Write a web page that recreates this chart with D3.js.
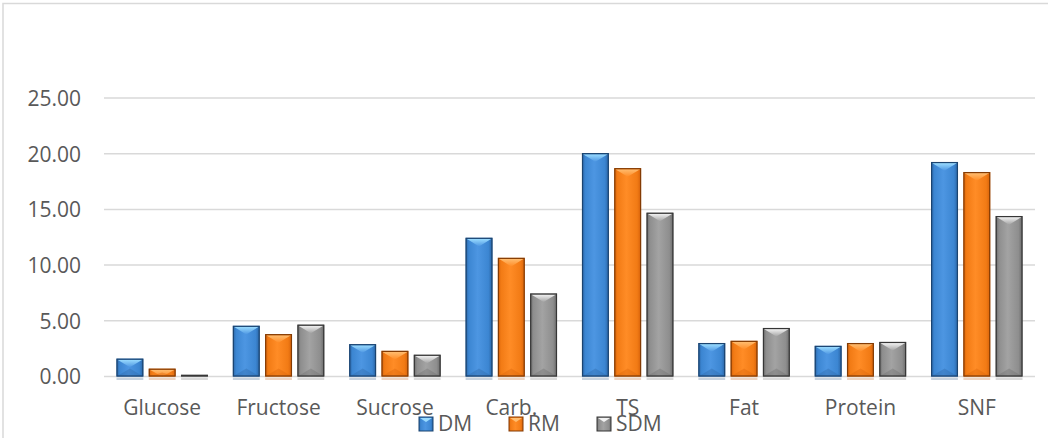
<!DOCTYPE html>
<html><head><meta charset="utf-8">
<script src="https://cdn.jsdelivr.net/npm/d3@7"></script>
<style>body{margin:0;background:#fff}svg{display:block;font-family:"Open Sans",sans-serif}</style>
</head><body><svg id="c" width="1048" height="438"></svg>
<script>
const categories = ["Glucose","Fructose","Sucrose","Carb.","TS","Fat","Protein","SNF"];
const seriesNames = ["DM","RM","SDM"];
const DM  = [1.60, 4.55, 2.90, 12.45, 20.05, 3.00, 2.75, 19.25];
const RM  = [0.70, 3.80, 2.30, 10.65, 18.70, 3.20, 3.00, 18.35];
const SDM = [0.15, 4.65, 1.95, 7.45, 14.70, 4.35, 3.10, 14.40];
const yTicks = [0,5,10,15,20,25];
const values = {DM, RM, SDM};

const colors = {
  DM:  {l:"#4d96e2", m:"#3c86d2", r:"#2a64a4", tri:"#9adcff", stroke:"#1b4470", shadow:"#b9c7d6"},
  RM:  {l:"#ff8c26", m:"#f27b15", r:"#d6620a", tri:"#ffbd70", stroke:"#833b04", shadow:"#e8c9b3"},
  SDM: {l:"#a3a3a3", m:"#8e8e8e", r:"#6a6a6a", tri:"#f2f2f2", stroke:"#363636", shadow:"#cfcfcf"}
};

const svg = d3.select("#c");
const defs = svg.append("defs");
seriesNames.forEach(s=>{
  const g = defs.append("linearGradient").attr("id","g"+s).attr("x1","0").attr("x2","1").attr("y1","0").attr("y2","0");
  g.append("stop").attr("offset","0").attr("stop-color",colors[s].r);
  g.append("stop").attr("offset","0.12").attr("stop-color",colors[s].m);
  g.append("stop").attr("offset","0.45").attr("stop-color",colors[s].l);
  g.append("stop").attr("offset","0.85").attr("stop-color",colors[s].m);
  g.append("stop").attr("offset","1").attr("stop-color",colors[s].r);
  const t = defs.append("linearGradient").attr("id","t"+s).attr("x1","0").attr("x2","0").attr("y1","0").attr("y2","1");
  t.append("stop").attr("offset","0").attr("stop-color",colors[s].tri);
  t.append("stop").attr("offset","1").attr("stop-color",colors[s].l);
});

// chart border
svg.append("rect").attr("x",3).attr("y",3.5).attr("width",1060).attr("height",450)
  .attr("fill","none").attr("stroke","#d9d9d9").attr("stroke-width",1.5);

const x = d3.scaleBand().domain(categories).range([104,1035]);
const xs = d3.scaleBand().domain(seriesNames).range([12.5, x.bandwidth()-12.5]).paddingInner(0.17);
const y = d3.scaleLinear().domain([0,25]).range([376.5,98]);

// gridlines
svg.append("g").selectAll("line").data(yTicks).join("line")
  .attr("x1",104).attr("x2",1035).attr("y1",d=>y(d)).attr("y2",d=>y(d))
  .attr("stroke","#d9d9d9").attr("stroke-width",1.5);

// y axis labels
const yAxis = d3.axisLeft(y).tickValues(yTicks).tickFormat(d3.format(".2f")).tickSize(0).tickPadding(0);
const ya = svg.append("g").attr("transform","translate(81,0)").call(yAxis);
ya.select(".domain").remove();
ya.selectAll("text").attr("font-size",21).attr("fill","#595959").attr("font-family","'Open Sans',sans-serif").attr("dy","0.35em");

// x axis labels
const xAxis = d3.axisBottom(x).tickSize(0).tickPadding(0);
const xa = svg.append("g").attr("transform","translate(0,415)").call(xAxis);
xa.select(".domain").remove();
xa.selectAll("text").attr("font-size",21).attr("fill","#595959").attr("font-family","'Open Sans',sans-serif").attr("dy","0");

// bars
const bars = [];
categories.forEach((c,i)=>seriesNames.forEach(s=>bars.push({c,s,v:values[s][i]})));
const bg = svg.append("g");
bars.forEach(b=>{
  const bx = x(b.c)+xs(b.s), w = xs.bandwidth();
  const top = y(b.v), base = y(0), h = base-top;
  const g = bg.append("g");
  g.append("rect").attr("x",bx).attr("y",base+1).attr("width",w).attr("height",2.5)
    .attr("fill",colors[b.s].shadow).attr("opacity",0.8);
  g.append("rect").attr("x",bx).attr("y",top).attr("width",w).attr("height",h)
    .attr("fill","url(#g"+b.s+")");
  const th = Math.min(w*0.32, h);
  g.append("polygon")
    .attr("points",[[bx+1,top+1],[bx+w-1,top+1],[bx+w/2,top+th]].map(p=>p.join(",")).join(" "))
    .attr("fill","url(#t"+b.s+")");
  const bh = Math.min(w*0.3, h/2);
  g.append("polygon")
    .attr("points",[[bx,base],[bx+w,base],[bx+w/2,base-bh]].map(p=>p.join(",")).join(" "))
    .attr("fill",colors[b.s].r).attr("opacity",0.35);
  g.append("rect").attr("x",bx+0.5).attr("y",top+0.5).attr("width",Math.max(w-1,0)).attr("height",Math.max(h-1,0))
    .attr("fill","none").attr("stroke",colors[b.s].stroke).attr("stroke-width",1.2);
});

// legend
const legendX = {DM:419, RM:509, SDM:597};
const lg = svg.append("g");
seriesNames.forEach(s=>{
  const lx = legendX[s];
  lg.append("rect").attr("x",lx).attr("y",417).attr("width",14).attr("height",14).attr("fill","url(#g"+s+")")
    .attr("stroke",colors[s].stroke).attr("stroke-width",1);
  lg.append("polygon").attr("points",[[lx+1,418],[lx+13,418],[lx+7,422]].map(p=>p.join(",")).join(" "))
    .attr("fill",colors[s].tri);
  lg.append("text").attr("x",lx+19).attr("y",431).attr("font-size",21).attr("fill","#595959").text(s);
});
</script></body></html>
